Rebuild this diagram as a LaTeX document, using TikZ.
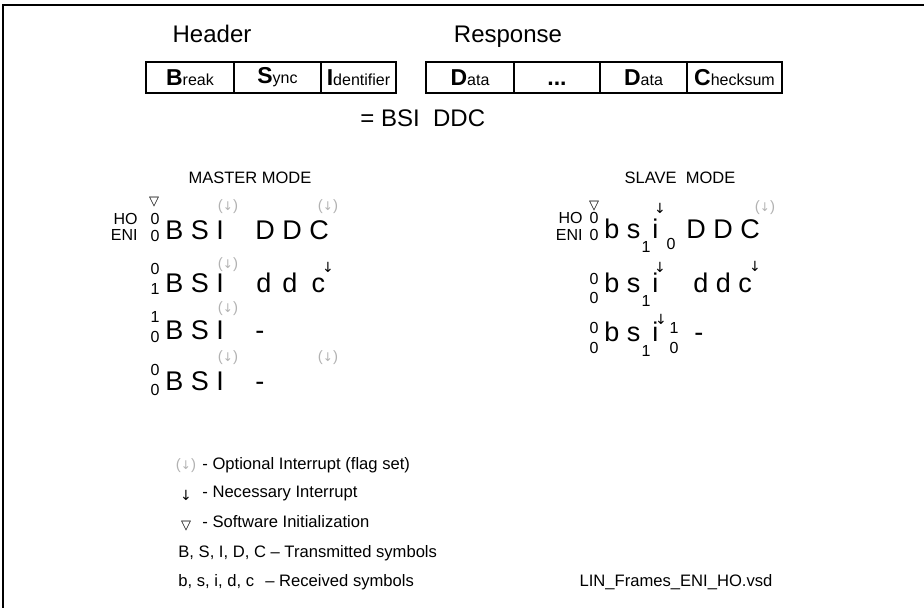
\documentclass[tikz,border=0pt]{standalone}
\usepackage{fontspec}
\setmainfont{Liberation Sans}
\newfontfamily\dejavu{DejaVu Sans}
\usepackage{xcolor}
\usetikzlibrary{positioning}
\definecolor{optgray}{RGB}{178,178,178}
\newcommand{\fld}[2]{{\fontsize{11.5}{12}\selectfont\bfseries #1}{\fontsize{8}{9}\selectfont #2}}
\newcommand{\darr}{{\dejavu ↓}}
\tikzset{
  field/.style={draw, line width=0.6pt, minimum height=15.5pt, inner sep=0pt, outer sep=0pt, anchor=west},
  heading/.style={font=\fontsize{12}{14}\selectfont, inner sep=0pt, anchor=base},
  modetitle/.style={font=\fontsize{8.25}{10}\selectfont, inner sep=0pt},
  symb/.style={font=\fontsize{13.5}{16}\selectfont, inner sep=0pt, anchor=base west},
  flagbit/.style={font=\fontsize{8}{9}\selectfont, inner sep=0pt},
  optint/.style={font=\fontsize{7.5}{9}\selectfont, text=optgray, inner sep=0pt},
  necint/.style={font=\fontsize{7}{8}\selectfont, inner sep=0pt},
  swinit/.style={font=\dejavu\fontsize{6.5}{8}\selectfont, inner sep=0pt},
  legend/.style={font=\fontsize{8.3}{10}\selectfont, inner sep=0pt, anchor=west}
}

\begin{document}
\begin{tikzpicture}[x=0.5pt, y=-0.5pt]
    \useasboundingbox (0,0) rectangle (924,608);
    \draw[line width=1pt] (924,5) -- (3,5) -- (3,608);

    % frame fields
    \node[heading] (hdr) at (212,43) {Header};
    \node[heading] (rsp) at (508,43) {Response};
    \node[field, minimum width=44pt] (brk) at (146,77.5) {\fld{B}{reak}};
    \node[field, minimum width=43.5pt, right=0pt of brk] (syn) {\fld{S}{ync}};
    \node[field, minimum width=37.5pt, right=0pt of syn] (idf) {\fld{I}{dentifier}};
    \node[field, minimum width=44pt] (dat1) at (426,77.5) {\fld{D}{ata}};
    \node[field, minimum width=43pt, right=0pt of dat1] (dots) {\fld{\vphantom{D}...}{}};
    \node[field, minimum width=43.5pt, right=0pt of dots] (dat2) {\fld{D}{ata}};
    \node[field, minimum width=47.5pt, right=0pt of dat2] (chk) {\fld{C}{hecksum}};
    \node[heading, anchor=base west] (short) at (360,127) {= BSI\ \ DDC};

    % master mode
    \node[modetitle] (mtitle) at (250,178) {MASTER MODE};
    \node[swinit] (mswi) at (154,202) {▽};
    \node[flagbit, anchor=east] (mho) at (138,219) {HO};
    \node[flagbit, anchor=east] (meni) at (138,235) {ENI};
    \node[symb] (mbsi1) at (165,240) {B S I};
    \node[symb] (mddc1) at (255,240) {D D C};
    \node[symb] (mbsi2) at (165,293) {B S I};
    \node[symb] (mddc2) at (256,293) {d\hspace{0.41em}d\hspace{0.52em}c};
    \node[symb] (mbsi3) at (165,340) {B S I};
    \node[symb] (mnil3) at (255,340) {-};
    \node[symb] (mbsi4) at (165,390) {B S I};
    \node[symb] (mnil4) at (255,390) {-};

    % slave mode
    \node[modetitle] (stitle) at (680,178) {SLAVE\ \ MODE};
    \node[swinit] (sswi) at (594,206) {▽};
    \node[flagbit, anchor=east] (sho) at (583,218) {HO};
    \node[flagbit, anchor=east] (seni) at (583,235) {ENI};
    \node[symb] (sbs1) at (604,239) {b s};
    \node[symb] (si1) at (652,239) {i};
    \node[symb] (sddc1) at (686,239) {D D C};
    \node[symb] (sbs2) at (604,293) {b s};
    \node[symb] (si2) at (652,293) {i};
    \node[symb] (sddc2) at (693,293) {d d c};
    \node[symb] (sbs3) at (604,342) {b s};
    \node[symb] (si3) at (652,342) {i};
    \node[symb] (snil3) at (694,342) {-};

    % flag bits
    \foreach \x/\y/\b [count=\i] in {155/219/0, 155/236/0, 155/269/0, 155/289/1,
        155/317/1, 155/337/0, 155/370/0, 155/390/0, 594/218/0, 594/235/0,
        594/279/0, 594/298/0, 594/328/0, 594/348/0, 646/247/1, 671/244/0,
        646/301/1, 646/351/1, 674/328/1, 674/348/0}
        \node[flagbit] (bit\i) at (\x,\y) {\b};

    % interrupts
    \foreach \x/\y [count=\i] in {228/207, 328/207, 228/265, 228/309, 228/358, 328/358, 765/208}
        \node[optint] (opt\i) at (\x,\y) {({\fontsize{6}{7}\selectfont\darr})};
    \foreach \x/\y [count=\i] in {328/267, 660/208, 660/267, 755/266, 661/319}
        \node[necint] (nec\i) at (\x,\y) {\darr};

    % legend
    \node[optint] (lgopt) at (186,466) {({\fontsize{6}{7}\selectfont\darr})};
    \node[legend] (lgopttxt) at (202,465) {- Optional Interrupt (flag set)};
    \node[necint] (lgnec) at (186,495) {\darr};
    \node[legend] (lgnectxt) at (202,494) {- Necessary Interrupt};
    \node[swinit] (lgswi) at (186,526) {▽};
    \node[legend] (lgswitxt) at (202,522) {- Software Initialization};
    \node[legend] (lgtx) at (178,553) {B, S, I, D, C – Transmitted symbols};
    \node[legend] (lgrx) at (178,582) {b, s, i, d, c};
    \node[legend] (lgrxtxt) at (265,582) {– Received symbols};
    \node[legend, anchor=center] (fname) at (676,582) {LIN\_Frames\_ENI\_HO.vsd};
\end{tikzpicture}
\end{document}
